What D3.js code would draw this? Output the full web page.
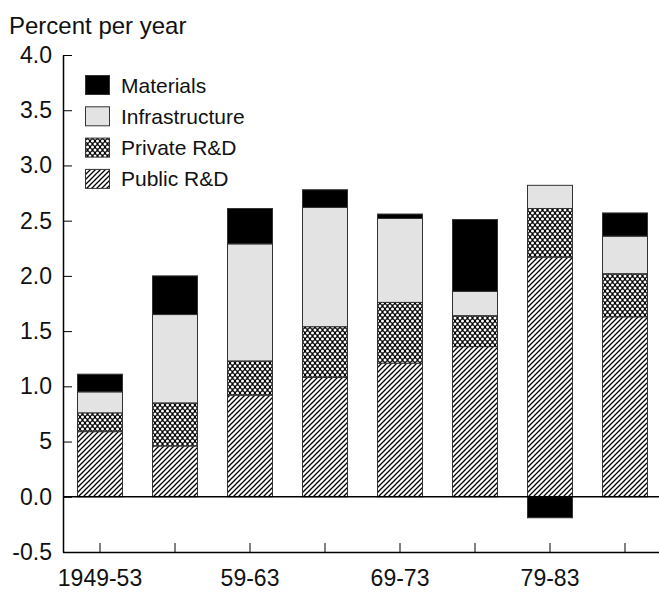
<!DOCTYPE html>
<html>
<head>
<meta charset="utf-8">
<script src="https://cdn.jsdelivr.net/npm/d3@7"></script>
<style>
  html, body { margin: 0; padding: 0; background: #fff; }
  svg { display: block; }
  text { font-family: "Liberation Sans", Arial, Helvetica, sans-serif; fill: #111; }
</style>
</head>
<body>
<svg id="chart" width="659" height="592"></svg>
<script>
// Periods (five-year spans)
const periods = ["1949-53", "54-58", "59-63", "64-68", "69-73", "74-78", "79-83", "84-88"];
const periodLabels = ["1949-53", "", "59-63", "", "69-73", "", "79-83", ""];

// Contributions, percent per year, stacked bottom to top
const publicRD        = [0.59, 0.46, 0.92, 1.08, 1.21, 1.36, 2.17, 1.63];
const privateRD       = [0.17, 0.39, 0.31, 0.46, 0.55, 0.28, 0.44, 0.39];
const infrastructure  = [0.19, 0.80, 1.06, 1.08, 0.76, 0.22, 0.21, 0.34];
const materials       = [0.16, 0.35, 0.32, 0.16, 0.04, 0.65, -0.19, 0.21];

const seriesNames = ["Public R&D", "Private R&D", "Infrastructure", "Materials"];
const legendOrder = ["Materials", "Infrastructure", "Private R&D", "Public R&D"];

const yTickValues = [-0.5, 0, 0.5, 1.0, 1.5, 2.0, 2.5, 3.0, 3.5, 4.0];
const yTickLabels = ["-0.5", "0.0", "5", "1.0", "1.5", "2.0", "2.5", "3.0", "3.5", "4.0"];

const svg = d3.select("#chart");
const defs = svg.append("defs");

// diagonal hatch
const hatch = defs.append("pattern")
  .attr("id", "hatch").attr("patternUnits", "userSpaceOnUse")
  .attr("width", 5).attr("height", 5);
hatch.append("rect").attr("width", 5).attr("height", 5).attr("fill", "#fff");
hatch.append("path")
  .attr("d", "M-1,6 L6,-1 M-1,1 L1,-1 M4,6 L6,4")
  .attr("stroke", "#000").attr("stroke-width", 1.3);

// crosshatch: dark field with light dots on a diagonal lattice
const cross = defs.append("pattern")
  .attr("id", "cross").attr("patternUnits", "userSpaceOnUse")
  .attr("width", 5).attr("height", 6);
cross.append("rect").attr("width", 5).attr("height", 6).attr("fill", "#000");
[[0, 0], [5, 0], [0, 6], [5, 6], [2.5, 3]].forEach(([cx, cy]) => {
  cross.append("circle").attr("cx", cx).attr("cy", cy).attr("r", 1.5).attr("fill", "#fff");
});

const fills = {
  "Public R&D": "url(#hatch)",
  "Private R&D": "url(#cross)",
  "Infrastructure": "#e3e3e3",
  "Materials": "#000"
};

const rows = periods.map((p, i) => ({
  period: p,
  "Public R&D": publicRD[i],
  "Private R&D": privateRD[i],
  "Infrastructure": infrastructure[i],
  "Materials": materials[i]
}));

const x = d3.scaleBand()
  .domain(periods)
  .range([62.5, 662.5])
  .paddingInner(0.4)
  .paddingOuter(0.2);

const y = d3.scaleLinear().domain([-0.5, 4.0]).range([552, 55]);

const stack = d3.stack().keys(seriesNames).offset(d3.stackOffsetDiverging);
const layers = stack(rows);

// bars
const g = svg.append("g");
layers.forEach(layer => {
  g.selectAll(null)
    .data(layer)
    .join("rect")
    .attr("x", d => x(d.data.period))
    .attr("width", x.bandwidth())
    .attr("y", d => y(Math.max(d[0], d[1])))
    .attr("height", d => Math.abs(y(d[0]) - y(d[1])))
    .attr("fill", fills[layer.key])
    .attr("stroke", "#333")
    .attr("stroke-width", 1);
});

// zero line
svg.append("line")
  .attr("x1", 63).attr("x2", 659)
  .attr("y1", y(0)).attr("y2", y(0))
  .attr("stroke", "#000").attr("stroke-width", 1.5);

// y axis
const yAxis = d3.axisLeft(y)
  .tickValues(yTickValues)
  .tickFormat((d, i) => yTickLabels[i])
  .tickSizeInner(-9)
  .tickSizeOuter(0)
  .tickPadding(11);
const yg = svg.append("g").attr("transform", "translate(63,0)").call(yAxis);
yg.select(".domain").attr("stroke", "#000").attr("stroke-width", 1.5);
yg.selectAll(".tick line").attr("stroke", "#000").attr("stroke-width", 1);
yg.selectAll(".tick text")
  .attr("font-size", 23)
  .attr("font-family", "Liberation Sans, Arial, sans-serif")
  .attr("fill", "#111");

// x axis
const xAxis = d3.axisBottom(x)
  .tickFormat((d, i) => periodLabels[i])
  .tickSizeInner(-9)
  .tickSizeOuter(0)
  .tickPadding(18);
const xg = svg.append("g").attr("transform", "translate(0,552)").call(xAxis);
xg.select(".domain").attr("stroke", "#000").attr("stroke-width", 1.5);
xg.selectAll(".tick line").attr("stroke", "#000").attr("stroke-width", 1);
xg.selectAll(".tick text")
  .attr("font-size", 23)
  .attr("font-family", "Liberation Sans, Arial, sans-serif")
  .attr("fill", "#111");

// unit title
svg.append("text")
  .attr("x", 9).attr("y", 34)
  .attr("font-size", 24)
  .text("Percent per year");

// legend
const legend = svg.append("g");
legendOrder.forEach((name, i) => {
  const cy = 85 + i * 31.3;
  legend.append("rect")
    .attr("x", 85.5).attr("y", cy - 9.5)
    .attr("width", 24).attr("height", 19)
    .attr("fill", fills[name])
    .attr("stroke", "#333").attr("stroke-width", 1);
  legend.append("text")
    .attr("x", 121).attr("y", cy + 7.5)
    .attr("font-size", 21)
    .text(name);
});
</script>
</body>
</html>
